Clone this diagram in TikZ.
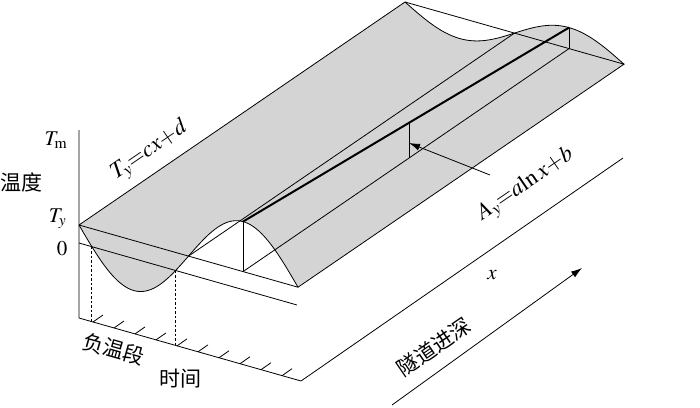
\documentclass[tikz,border=0pt]{standalone}
\usepackage{amsmath}
\usepackage{mathptmx}
\usepackage{fontspec}
\setmainfont{Liberation Serif}
\newfontfamily\cjk{Noto Sans CJK SC}
\usetikzlibrary{arrows.meta}

\begin{document}
\begin{tikzpicture}[x=1pt, y=-1pt, line width=0.8pt, >={Latex[length=11pt,width=7pt]},
  lbl/.style={font=\fontsize{21}{24}\selectfont},
  eq/.style={font=\fontsize{23}{26}\selectfont, rotate=34.4},
  zh/.style={font=\fontsize{21}{25}\selectfont\cjk}]
\useasboundingbox (0,0) rectangle (700,407);

% key points of the surface
\coordinate (front0) at (79,225);
\coordinate (back0) at (405,2);
\coordinate (frontE) at (298,287.2);
\coordinate (backE) at (624,64.2);
\coordinate (peakF) at (243,221.6);
\coordinate (peakB) at (569,27.6);
\coordinate (floorF) at (243,271.6);
\coordinate (floorB) at (569,48.6);
\coordinate (crossF) at (188.5,256.1);
\coordinate (crossB) at (514.5,33.1);
\coordinate (midR) at (409,122.8);
\coordinate (midF) at (409,158);
\coordinate (midTip) at (409,143);
\coordinate (midTail) at (490,175);

% surface
\fill[black!17] plot[domain=0:219, samples=80] ({79+\x},{225+0.284*\x+50*sin(1.643836*\x)})
  -- plot[domain=219:0, samples=80] ({405+\x},{2+0.284*\x+21*sin(1.643836*\x)}) -- cycle;
\draw plot[domain=0:219, samples=80] ({79+\x},{225+0.284*\x+50*sin(1.643836*\x)});
\draw plot[domain=0:219, samples=80] ({405+\x},{2+0.284*\x+21*sin(1.643836*\x)});
\draw (front0) -- (back0) -- (backE) -- (frontE) -- (front0);
\draw (crossF) -- (crossB);
\draw (floorF) -- (floorB);
\draw[line width=2pt] (peakF) -- (peakB);
\draw (peakF) -- (floorF);
\draw (peakB) -- (floorB);
\draw (midR) -- (midF);

% axes
\coordinate (axTop) at (79,130);
\coordinate (axO) at (79,318);
\coordinate (axT) at (301,381);
\coordinate (axX) at (623,158);
\coordinate (zero0) at (79,243);
\coordinate (zero1) at (297,305);
\draw (axTop) -- (axO) -- (axT) -- (axX);
\draw (zero0) -- (zero1);
\foreach \k in {0,...,9}
  \draw ({93+21*\k},{322+5.964*\k}) -- ++(10,-7);
\coordinate (neg1) at (91.8,246.6);
\coordinate (neg1b) at (91.8,321.6);
\coordinate (neg2) at (175.7,270.5);
\coordinate (neg2b) at (175.7,345.5);
\draw[dashed, dash pattern=on 2.5pt off 2pt] (neg1) -- (neg1b);
\draw[dashed, dash pattern=on 2.5pt off 2pt] (neg2) -- (neg2b);

% labels
\node[lbl, anchor=base east] (lblTm) at (71,145) {$T_\mathrm{m}$};
\node[lbl, anchor=base east] (lblTy) at (70,222) {$T_y$};
\node[lbl, anchor=base east] (lblZero) at (71,255) {$0$};
\node[zh] (lblTemp) at (22,182) {温度};
\node[zh, rotate=-15.9] (lblNeg) at (114,349) {负温段};
\node[zh] (lblTime) at (180,379) {时间};
\node[eq] (lblTyEq) at (150,151) {$T_y{=}cx{+}d$};
\node[eq] (lblAyEq) at (526,185) {$A_y{=}a\mathrm{ln}\,x{+}b$};
\node[lbl] (lblX) at (492,275) {$x$};
\node[zh, rotate=34.4] (lblDepth) at (434,347) {隧道进深};

% arrows
\coordinate (depA) at (392,405);
\coordinate (depB) at (582,268);
\draw[->] (depA) -- (depB);
\draw[->] (midTail) -- (midTip);
\end{tikzpicture}
\end{document}
